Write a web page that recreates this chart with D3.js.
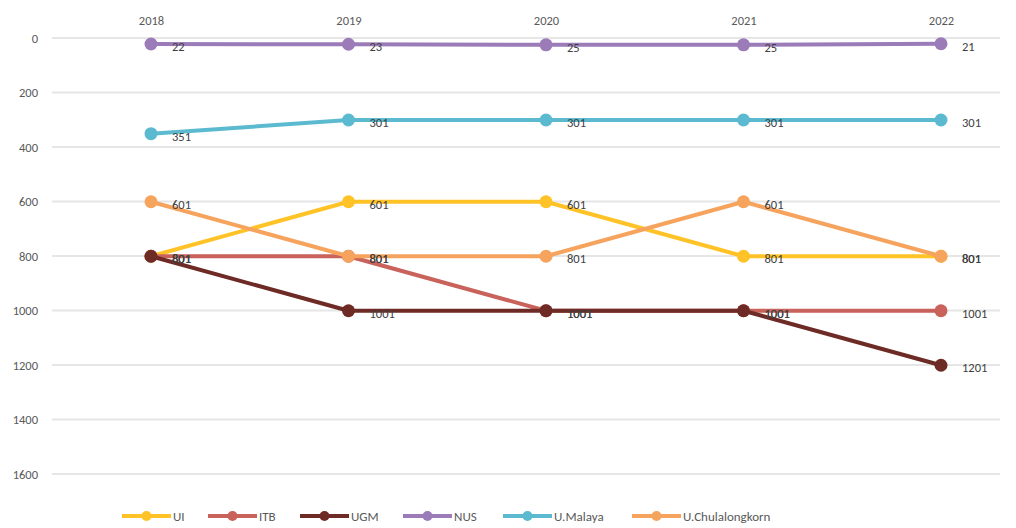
<!DOCTYPE html>
<html><head><meta charset="utf-8">
<script src="https://cdn.jsdelivr.net/npm/d3@7"></script>
<style>body{margin:0;background:#fff;}text{font-family:Calibri,Carlito,"Liberation Sans",sans-serif;}</style>
</head><body><svg id="c" width="1016" height="528"></svg>
<script>
const years = ["2018","2019","2020","2021","2022"];
const seriesNames = ["UI","ITB","UGM","NUS","U.Malaya","U.Chulalongkorn"];
const UI = [801,601,601,801,801];
const ITB = [801,801,1001,1001,1001];
const UGM = [801,1001,1001,1001,1201];
const NUS = [22,23,25,25,21];
const UMalaya = [351,301,301,301,301];
const UChula = [601,801,801,601,801];
const yTicks = [0,200,400,600,800,1000,1200,1400,1600];
const colors = ["#FFC328","#C8625B","#6E2B25","#9B7BB8","#5BBACF","#F6A35E"];

const series = [UI,ITB,UGM,NUS,UMalaya,UChula].map((v,i)=>({name:seriesNames[i],values:v,color:colors[i]}));
const svg = d3.select("#c");
const x = d3.scalePoint().domain(years).range([151,941]);
const y = d3.scaleLinear().domain([0,1600]).range([38,474]);
const fs = 12.5;

svg.append("g").selectAll("line").data(yTicks).join("line")
  .attr("x1",52).attr("x2",1000).attr("y1",d=>y(d)).attr("y2",d=>y(d))
  .attr("stroke","#e6e6e6").attr("stroke-width",2);
const yAxis = d3.axisLeft(y).tickValues(yTicks).tickFormat(d3.format("d")).tickSize(0).tickPadding(0);
const ga = svg.append("g").attr("transform","translate(38,0)").call(yAxis);
ga.select(".domain").remove();
ga.selectAll("text").attr("font-size",fs).attr("fill","#595959").attr("dy","0.35em");
const xAxis = d3.axisTop(x).tickSize(0).tickPadding(0);
const gx = svg.append("g").attr("transform","translate(0,25)").call(xAxis);
gx.select(".domain").remove();
gx.selectAll("text").attr("font-size",fs).attr("fill","#595959");

const line = d3.line().x((d,i)=>x(years[i])).y(d=>y(d));
series.forEach(s=>{
  const g = svg.append("g");
  g.append("path").attr("d",line(s.values)).attr("fill","none").attr("stroke",s.color).attr("stroke-width",4).attr("stroke-linejoin","round");
  g.selectAll("circle").data(s.values).join("circle")
    .attr("cx",(d,i)=>x(years[i])).attr("cy",d=>y(d)).attr("r",6.5).attr("fill",s.color);
});
series.forEach(s=>{
  svg.append("g").selectAll("text").data(s.values).join("text")
    .attr("x",(d,i)=>x(years[i])+21).attr("y",d=>y(d)+7)
    .attr("font-size",fs).attr("fill","#404040").text(d=>d);
});
const legX = [122,208,300,403,503,632];
const lg = svg.append("g");
series.forEach((s,i)=>{
  const g = lg.append("g").attr("transform",`translate(${legX[i]},516)`);
  g.append("line").attr("x1",0).attr("x2",49).attr("stroke",s.color).attr("stroke-width",4);
  g.append("circle").attr("cx",24.5).attr("r",5).attr("fill",s.color);
  g.append("text").attr("x",51).attr("dy","0.35em").attr("font-size",fs+0.5).attr("fill","#595959").text(s.name);
});
</script></body></html>
